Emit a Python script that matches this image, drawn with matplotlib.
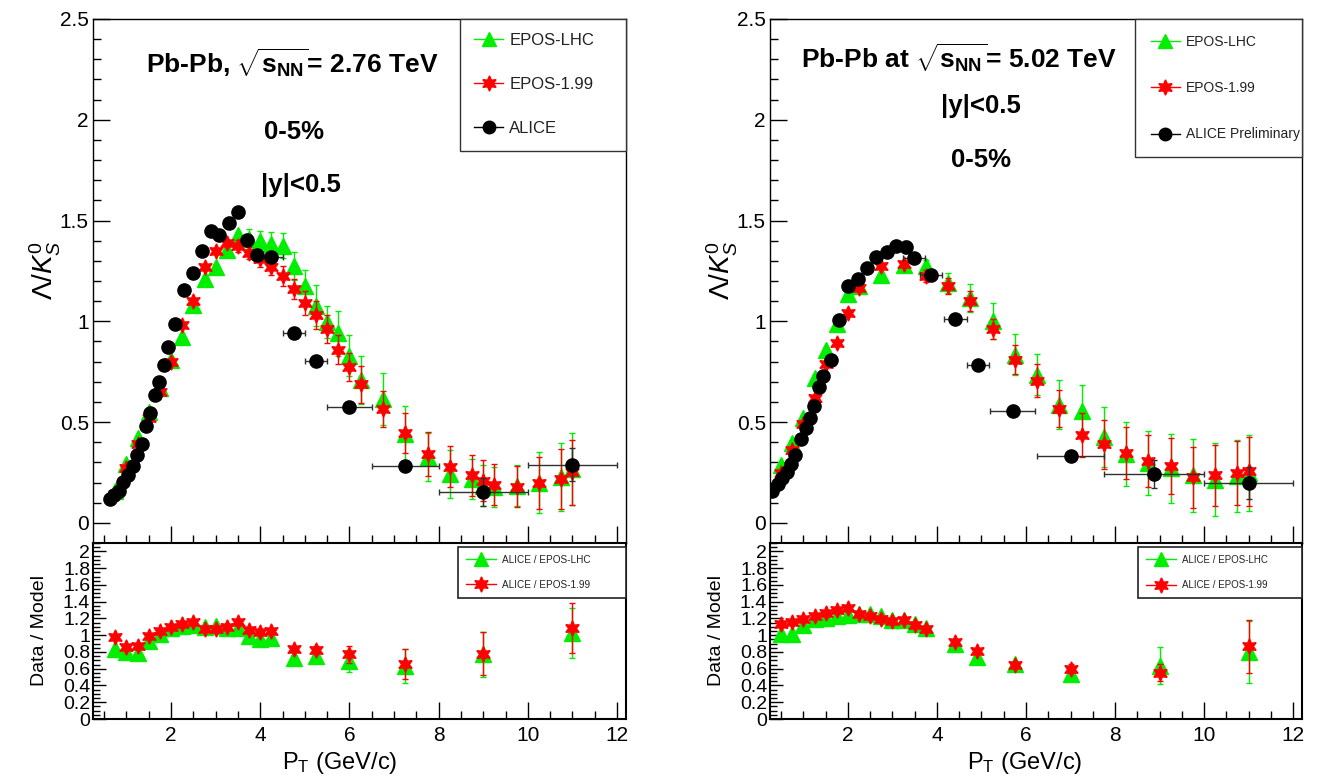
import matplotlib
matplotlib.use('Agg')
import matplotlib.pyplot as plt
from matplotlib.lines import Line2D
from matplotlib.ticker import MultipleLocator, FuncFormatter

plt.rcParams['font.family'] = ['Liberation Sans', 'DejaVu Sans']
plt.rcParams['mathtext.fontset'] = 'custom'
plt.rcParams['mathtext.rm'] = 'Liberation Sans'
plt.rcParams['mathtext.it'] = 'Liberation Sans:italic'
plt.rcParams['mathtext.bf'] = 'Liberation Sans:bold'

# ---------------- Pb-Pb 2.76 TeV ----------------
alice276_x = [0.62, 0.71, 0.83, 0.92, 1.03, 1.14, 1.24, 1.34, 1.44, 1.53, 1.64, 1.74, 1.85, 1.93,
              2.09, 2.30, 2.49, 2.69, 2.89, 3.08, 3.29, 3.51, 3.70, 3.92, 4.25, 4.75, 5.25, 6.0,
              7.25, 9.0, 11.0]
alice276_y = [0.116, 0.136, 0.160, 0.202, 0.235, 0.281, 0.337, 0.392, 0.48, 0.544, 0.632, 0.70,
              0.784, 0.871, 0.987, 1.153, 1.240, 1.351, 1.447, 1.43, 1.487, 1.541, 1.401, 1.33,
              1.318, 0.943, 0.804, 0.574, 0.284, 0.155, 0.289]
alice276_xerr = [0]*22 + [0.1, 0.1, 0.25, 0.25, 0.25, 0.5, 0.75, 1.0, 1.0]
alice276_yerr = [0.01]*21 + [0.025, 0.02, 0.02, 0.02, 0.015, 0.015, 0.015, 0.02, 0.07, 0.08]

model276_x = [0.75, 1.0, 1.25, 1.5, 1.75, 2.0, 2.25, 2.5, 2.75, 3.0, 3.25, 3.5, 3.75, 4.0, 4.25,
              4.5, 4.75, 5.0, 5.25, 5.5, 5.75, 6.0, 6.25, 6.75, 7.25, 7.75, 8.25, 8.75, 9.0, 9.25,
              9.75, 10.25, 10.75, 11.0]
eposlhc276_y = [0.16, 0.29, 0.42, 0.55, 0.67, 0.81, 0.92, 1.08, 1.21, 1.27, 1.354, 1.429, 1.41,
                1.396, 1.384, 1.376, 1.273, 1.177, 1.078, 0.996, 0.94, 0.83, 0.71, 0.615, 0.441,
                0.326, 0.243, 0.218, 0.185, 0.177, 0.185, 0.20, 0.227, 0.268]
eposlhc276_err = [0.015]*12 + [0.05, 0.05, 0.06, 0.06, 0.07, 0.08, 0.1, 0.08, 0.11, 0.1, 0.12,
                               0.13, 0.14, 0.12, 0.12, 0.1, 0.1, 0.1, 0.1, 0.15, 0.17, 0.18]
epos199_276_y = [0.145, 0.27, 0.39, 0.52, 0.65, 0.80, 0.98, 1.10, 1.27, 1.35, 1.39, 1.375, 1.34,
                 1.31, 1.27, 1.225, 1.16, 1.09, 1.03, 0.96, 0.86, 0.775, 0.687, 0.565, 0.445,
                 0.342, 0.279, 0.235, 0.21, 0.19, 0.18, 0.197, 0.218, 0.251]
epos199_276_err = [0.015]*11 + [0.03, 0.03, 0.04, 0.04, 0.05, 0.05, 0.06, 0.07, 0.07, 0.07,
                                0.07, 0.09, 0.09, 0.1, 0.11, 0.1, 0.1, 0.1, 0.1, 0.1, 0.13,
                                0.15, 0.16]

ratio276_x = [0.75, 1.0, 1.25, 1.5, 1.75, 2.0, 2.25, 2.5, 2.75, 3.0, 3.25, 3.5, 3.75, 4.0, 4.25,
              4.75, 5.25, 6.0, 7.25, 9.0, 11.0]
ratio276_lhc = [0.833, 0.805, 0.793, 0.934, 1.014, 1.082, 1.107, 1.127, 1.103, 1.107, 1.082,
                1.082, 0.986, 0.954, 0.962, 0.732, 0.752, 0.692, 0.632, 0.773, 1.022]
ratio276_lhc_err = [0.01]*15 + [0.03, 0.08, 0.13, 0.2, 0.27, 0.3]
ratio276_199 = [0.982, 0.865, 0.873, 0.994, 1.054, 1.095, 1.135, 1.163, 1.07, 1.075, 1.095,
                1.163, 1.066, 1.034, 1.054, 0.833, 0.821, 0.773, 0.652, 0.78, 1.083]
ratio276_199_err = [0.01]*15 + [0.03, 0.05, 0.1, 0.18, 0.26, 0.3]

# ---------------- Pb-Pb 5.02 TeV ----------------
alice502_x = [0.30, 0.43, 0.53, 0.63, 0.73, 0.81, 0.95, 1.05, 1.15, 1.24, 1.34, 1.44, 1.61, 1.81,
              2.01, 2.22, 2.42, 2.63, 2.87, 3.07, 3.30, 3.48, 3.87, 4.41, 4.93, 5.70, 7.0, 8.87,
              11.0]
alice502_y = [0.157, 0.193, 0.223, 0.251, 0.293, 0.339, 0.417, 0.471, 0.521, 0.579, 0.675, 0.728,
              0.81, 1.005, 1.177, 1.212, 1.265, 1.318, 1.343, 1.373, 1.368, 1.315, 1.232, 1.009,
              0.782, 0.554, 0.331, 0.243, 0.198]
alice502_xerr = [0]*20 + [0.11, 0.25, 0.24, 0.26, 0.25, 0.5, 0.75, 1.12, 1.0]
alice502_yerr = [0.01]*20 + [0.03, 0.015, 0.015, 0.015, 0.015, 0.015, 0.015, 0.07, 0.08]

model502_x = [0.5, 0.75, 1.0, 1.25, 1.5, 1.75, 2.0, 2.25, 2.75, 3.25, 3.75, 4.25, 4.75, 5.25,
              5.75, 6.25, 6.75, 7.25, 7.75, 8.25, 8.75, 9.25, 9.75, 10.25, 10.75, 11.0]
eposlhc502_y = [0.286, 0.397, 0.521, 0.719, 0.86, 0.987, 1.136, 1.174, 1.229, 1.278, 1.273, 1.19,
                1.116, 1.0, 0.835, 0.736, 0.587, 0.554, 0.425, 0.342, 0.298, 0.27, 0.236, 0.215,
                0.232, 0.248]
eposlhc502_err = [0.015]*10 + [0.03, 0.05, 0.07, 0.09, 0.1, 0.1, 0.12, 0.13, 0.15, 0.16, 0.16,
                               0.17, 0.18, 0.18, 0.18, 0.19]
epos199_502_y = [0.248, 0.359, 0.49, 0.62, 0.787, 0.893, 1.042, 1.166, 1.273, 1.282, 1.224, 1.174,
                 1.10, 0.96, 0.81, 0.706, 0.567, 0.435, 0.389, 0.347, 0.306, 0.281, 0.226, 0.236,
                 0.248, 0.256]
epos199_502_err = [0.015]*10 + [0.03, 0.04, 0.05, 0.05, 0.07, 0.08, 0.09, 0.11, 0.12, 0.13,
                                0.13, 0.14, 0.15, 0.15, 0.16, 0.17]

ratio502_x = [0.5, 0.75, 1.0, 1.25, 1.5, 1.75, 2.0, 2.25, 2.5, 2.75, 3.0, 3.25, 3.5, 3.75, 4.4,
              4.9, 5.75, 7.0, 9.0, 11.0]
ratio502_lhc = [1.016, 1.016, 1.124, 1.189, 1.205, 1.229, 1.237, 1.257, 1.249, 1.229, 1.177,
                1.185, 1.137, 1.084, 0.896, 0.735, 0.655, 0.534, 0.635, 0.795]
ratio502_lhc_err = [0.01]*14 + [0.02, 0.02, 0.03, 0.07, 0.22, 0.37]
ratio502_199 = [1.137, 1.157, 1.197, 1.229, 1.269, 1.297, 1.325, 1.257, 1.229, 1.197, 1.165,
                1.177, 1.124, 1.076, 0.924, 0.815, 0.643, 0.602, 0.554, 0.867]
ratio502_199_err = [0.01]*14 + [0.02, 0.02, 0.03, 0.05, 0.1, 0.32]

GREEN = '#00ee00'
RED = '#ff0000'
BLACK = '#000000'
STAR = (6, 1, 0)

W, H = 1320, 779
fig = plt.figure(figsize=(W / 100, H / 100), dpi=100)


def rect(x0, y0, x1, y1):
    return [x0 / W, 1 - y1 / H, (x1 - x0) / W, (y1 - y0) / H]


fmt = FuncFormatter(lambda v, p: f'{round(v, 3):g}')


def style_top(ax):
    ax.set_xlim(0.25, 12.2)
    ax.set_ylim(-0.1, 2.5)
    ax.xaxis.set_major_locator(MultipleLocator(2))
    ax.xaxis.set_minor_locator(MultipleLocator(0.5))
    ax.yaxis.set_major_locator(MultipleLocator(0.5))
    ax.yaxis.set_minor_locator(MultipleLocator(0.1))
    ax.yaxis.set_major_formatter(fmt)
    ax.tick_params(which='both', direction='in', top=False, right=False, width=1)
    ax.tick_params(which='major', length=12)
    ax.tick_params(which='minor', length=6)
    ax.tick_params(axis='x', labelbottom=False)
    ax.tick_params(axis='y', labelsize=15, pad=3)
    for s in ax.spines.values():
        s.set_linewidth(1.0)


def style_bottom(ax):
    ax.set_xlim(0.25, 12.2)
    ax.set_ylim(0, 2.1)
    ax.xaxis.set_major_locator(MultipleLocator(2))
    ax.xaxis.set_minor_locator(MultipleLocator(0.5))
    ax.yaxis.set_major_locator(MultipleLocator(0.2))
    ax.yaxis.set_minor_locator(MultipleLocator(0.05))
    ax.yaxis.set_major_formatter(fmt)
    ax.tick_params(which='both', direction='in', top=False, right=False, width=1)
    ax.tick_params(axis='x', which='major', length=12)
    ax.tick_params(axis='x', which='minor', length=6)
    ax.tick_params(axis='y', which='major', length=9)
    ax.tick_params(axis='y', which='minor', length=5)
    ax.tick_params(axis='x', labelsize=15, pad=5)
    ax.tick_params(axis='y', labelsize=14, pad=2)
    for s in ax.spines.values():
        s.set_linewidth(1.5)


def eb(ax, x, y, yerr, color, marker, ms, xerr=None, z=3, ecolor=None):
    ax.errorbar(x, y, yerr=yerr, xerr=xerr, fmt='', marker=marker, ms=ms, mfc=color, mec=color,
                ecolor=ecolor or color, elinewidth=1.0, capsize=2.5, capthick=1.0,
                linestyle='none', zorder=z)


def handles(lw=1.0, sizes=(10, 11, 9), alice=True):
    h = [Line2D([], [], color=GREEN, marker='^', ms=sizes[0], lw=lw),
         Line2D([], [], color=RED, marker=STAR, ms=sizes[1], lw=lw)]
    if alice:
        h.append(Line2D([], [], color=BLACK, marker='o', ms=sizes[2], lw=lw))
    return h


panels = [
    dict(x0=93, x1=626, title=r'Pb-Pb, $\sqrt{\mathbf{s}_{\mathbf{NN}}}$= 2.76 TeV',
         t_xy=(292, 63), t2=('0-5%', 294, 132), t3=('|y|<0.5', 301, 185),
         ax_=alice276_x, ay=alice276_y, axe=alice276_xerr, aye=alice276_yerr,
         mx=model276_x, lhc=eposlhc276_y, lhce=eposlhc276_err, e199=epos199_276_y,
         e199e=epos199_276_err, rx=ratio276_x, rl=ratio276_lhc, rle=ratio276_lhc_err,
         r1=ratio276_199, r1e=ratio276_199_err, alice_label='ALICE', leg_fs=12,
         leg_x0=460, lleg_x0=458, lleg_fs=7.2, ylab_x=45, xlab_x=340),
    dict(x0=770, x1=1302, title=r'Pb-Pb at $\sqrt{\mathbf{s}_{\mathbf{NN}}}$= 5.02 TeV',
         t_xy=(959, 58), t2=('|y|<0.5', 981, 106), t3=('0-5%', 981, 160),
         ax_=alice502_x, ay=alice502_y, axe=alice502_xerr, aye=alice502_yerr,
         mx=model502_x, lhc=eposlhc502_y, lhce=eposlhc502_err, e199=epos199_502_y,
         e199e=epos199_502_err, rx=ratio502_x, rl=ratio502_lhc, rle=ratio502_lhc_err,
         r1=ratio502_199, r1e=ratio502_199_err, alice_label='ALICE Preliminary', leg_fs=10,
         leg_x0=1135, lleg_x0=1138, lleg_fs=7.0, ylab_x=722, xlab_x=1025),
]

TOP, MID, BOT = 19, 543, 719

for p in panels:
    axt = fig.add_axes(rect(p['x0'], TOP, p['x1'], MID))
    axb = fig.add_axes(rect(p['x0'], MID, p['x1'], BOT))
    style_top(axt)
    style_bottom(axb)
    aw = p['x1'] - p['x0']

    eb(axt, p['mx'], p['lhc'], p['lhce'], GREEN, '^', 11, z=3)
    eb(axt, p['mx'], p['e199'], p['e199e'], RED, STAR, 11, z=4)
    eb(axt, p['ax_'], p['ay'], p['aye'], BLACK, 'o', 9.5, xerr=p['axe'], z=5, ecolor='#303030')

    eb(axb, p['rx'], p['rl'], p['rle'], GREEN, '^', 11, z=3)
    eb(axb, p['rx'], p['r1'], p['r1e'], RED, STAR, 11, z=4)

    # upper legend
    fs = p['leg_fs']
    fpx = fs * 100 / 72
    rowh = fpx * 1.17
    lab_sp = (48.5 - rowh) / fpx
    bpad = (145 - 3 * rowh - 2 * lab_sp * fpx) / (2 * fpx)
    lx0 = (p['leg_x0'] - p['x0']) / aw
    leg = axt.legend(handles(), ['EPOS-LHC', 'EPOS-1.99', p['alice_label']],
                     loc='upper left', bbox_to_anchor=(lx0, 0, 1 - lx0, 1.0), mode='expand',
                     borderaxespad=0, fontsize=fs, labelspacing=lab_sp, borderpad=bpad,
                     handlelength=29 / fpx, handletextpad=6 / fpx, fancybox=False,
                     frameon=True, edgecolor='#333333', framealpha=1, labelcolor='#222222')
    leg.get_frame().set_linewidth(1.0)

    # lower legend
    fs2 = p['lleg_fs']
    fpx2 = fs2 * 100 / 72
    rowh2 = fpx2 * 1.17
    lab_sp2 = (27 - rowh2) / fpx2
    bpad2 = (54 - 2 * rowh2 - lab_sp2 * fpx2) / (2 * fpx2)
    lx02 = (p['lleg_x0'] - p['x0']) / aw
    ytop = 1 - 4 / (BOT - MID)
    leg2 = axb.legend(handles(sizes=(10, 11, 8), alice=False),
                      ['ALICE / EPOS-LHC', 'ALICE / EPOS-1.99'],
                      loc='upper left', bbox_to_anchor=(lx02, 0, 1 - lx02, ytop), mode='expand',
                      borderaxespad=0, fontsize=fs2, labelspacing=lab_sp2, borderpad=bpad2,
                      handlelength=30 / fpx2, handletextpad=6 / fpx2, fancybox=False,
                      frameon=True, edgecolor='#222222', framealpha=1, labelcolor='#222222')
    leg2.get_frame().set_linewidth(1.2)

    # annotations
    fig.text(p['t_xy'][0] / W, 1 - p['t_xy'][1] / H, p['title'], ha='center', va='center',
             fontsize=19, fontweight='bold')
    for (s, x, y) in (p['t2'], p['t3']):
        fig.text(x / W, 1 - y / H, s, ha='center', va='center', fontsize=18.5, fontweight='bold')

    # axis titles
    fig.text(p['ylab_x'] / W, 1 - 270 / H, r'$\mathit{\Lambda}/\mathit{K}^{0}_{S}$',
             rotation=90, ha='center', va='center', fontsize=20)
    fig.text((p['ylab_x'] - 6) / W, 1 - 630 / H, 'Data / Model', rotation=90, ha='center',
             va='center', fontsize=14)
    fig.text(p['xlab_x'] / W, 1 - 763 / H, r'P$_{\mathregular{T}}$ (GeV/c)', ha='center',
             va='center', fontsize=17)

fig.savefig('out.png', dpi=100)
